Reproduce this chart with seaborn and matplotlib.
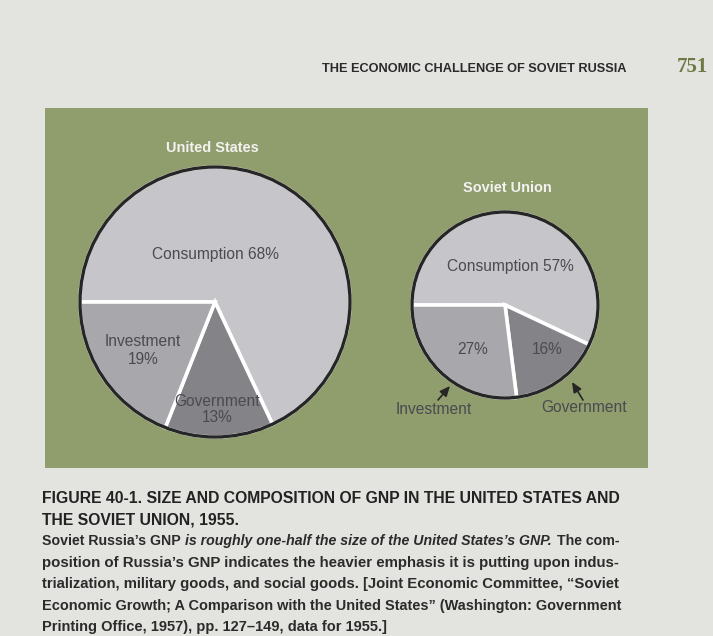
import matplotlib
matplotlib.use("Agg")
import matplotlib.pyplot as plt
import seaborn as sns
from matplotlib import font_manager
from matplotlib.patches import Circle, Rectangle

# ---------------- data ----------------
categories = ["Consumption", "Government", "Investment"]
us_shares = [68, 13, 19]
su_shares = [57, 16, 27]
countries = ["United States", "Soviet Union"]

header_text = "THE ECONOMIC CHALLENGE OF SOVIET RUSSIA"
page_number = "751"

# ---------------- style ----------------
sns.set_theme(style="white")
names = {f.name for f in font_manager.fontManager.ttflist}
NARROW = "Liberation Sans Narrow" if "Liberation Sans Narrow" in names else "Liberation Sans"
plt.rcParams["font.family"] = [NARROW, "DejaVu Sans"]

PAGE = "#e3e3e0"
GREEN = "#909d6d"
OUTLINE = "#262626"
SLICE_COLORS = {"Consumption": "#c5c5ca", "Government": "#838388", "Investment": "#a7a7ac"}
LABEL_C = "#4a4a50"
TEXT_C = "#2b2b2b"

W, H = 713, 636
fig = plt.figure(figsize=(W / 100, H / 100), dpi=100, facecolor=PAGE)
ax = fig.add_axes([0, 0, 1, 1])
renderer = fig.canvas.get_renderer()

# green panel
ax.add_patch(Rectangle((45, 108), 603, 360, facecolor=GREEN, edgecolor="none", zorder=0))

# pies
layout = {"United States": ((215, 302), 135), "Soviet Union": ((505, 305), 93)}
for country, shares in zip(countries, [us_shares, su_shares]):
    center, radius = layout[country]
    ax.pie(shares, colors=[SLICE_COLORS[c] for c in categories], startangle=180,
           counterclock=True, center=center, radius=radius,
           wedgeprops=dict(edgecolor="white", linewidth=2.6, joinstyle="miter"))
    ax.add_patch(Circle(center, radius, fill=False, edgecolor=OUTLINE, linewidth=2.4, zorder=5))

ax.set_xlim(0, W)
ax.set_ylim(H, 0)
ax.set_aspect("auto")
ax.set_axis_off()


def measure(s, **kw):
    t = ax.text(0, 0, s, fontsize=10, **kw)
    w = t.get_window_extent(renderer).width
    t.remove()
    return w


def fit(s, target, **kw):
    return 10.0 * target / measure(s, **kw)


# ---------------- pie labels ----------------
fs_lab = fit(f"{categories[0]} {us_shares[0]}%", 127)
lab_kw = dict(fontsize=fs_lab, color=LABEL_C, ha="center", va="center", zorder=6)
us = dict(zip(categories, us_shares))
su = dict(zip(categories, su_shares))
ax.text(215, 255, f"Consumption {us['Consumption']}%", **lab_kw)
ax.text(143, 342, "Investment", **lab_kw)
ax.text(143, 360, f"{us['Investment']}%", **lab_kw)
ax.text(217, 401, "Government", **lab_kw)
ax.text(217, 417, f"{us['Government']}%", **lab_kw)

ax.text(510, 267, f"Consumption {su['Consumption']}%", **lab_kw)
ax.text(473, 349, f"{su['Investment']}%", **lab_kw)
ax.text(547, 349, f"{su['Government']}%", **lab_kw)
ax.text(434, 409, "Investment", **lab_kw)
ax.text(584, 408, "Government", **lab_kw)
arrow_kw = dict(arrowstyle="-|>,head_length=0.5,head_width=0.22", color=OUTLINE, lw=1.2,
                shrinkA=0, shrinkB=0)
ax.annotate("", xy=(450, 386), xytext=(438, 400), arrowprops=arrow_kw, zorder=6)
ax.annotate("", xy=(572, 382), xytext=(583, 400), arrowprops=arrow_kw, zorder=6)

# titles
fs_title = fit(countries[0], 93, fontweight="bold")
ax.text(212, 148, countries[0], fontsize=fs_title, fontweight="bold", color="#f2f2f0",
        ha="center", va="center")
ax.text(507, 188, countries[1], fontsize=fs_title, fontweight="bold", color="#f2f2f0",
        ha="center", va="center")

# ---------------- header ----------------
hdr_kw = dict(fontweight="bold", family=["Liberation Sans", "DejaVu Sans"])
ax.text(322, 69, header_text, fontsize=fit(header_text, 306, **hdr_kw), color=TEXT_C,
        ha="left", va="center", **hdr_kw)
num_kw = dict(fontweight="bold", family=["Liberation Serif", "DejaVu Serif"])
ax.text(677, 67, page_number, fontsize=fit(page_number, 31, **num_kw), color="#6d7842",
        ha="left", va="center", **num_kw)

# ---------------- caption ----------------
B = dict(fontweight="bold")
BI = dict(fontweight="bold", fontstyle="italic")
X0, X1 = 42, 620
TARGET = X1 - X0

cap1 = "FIGURE 40-1. SIZE AND COMPOSITION OF GNP IN THE UNITED STATES AND"
cap2 = "THE SOVIET UNION, 1955."
cap3 = [("Soviet Russia’s GNP", B),
        ("is roughly one-half the size of the United States’s GNP.", BI),
        ("The com-", B)]
cap4 = "position of Russia’s GNP indicates the heavier emphasis it is putting upon indus-"
cap5 = "trialization, military goods, and social goods. [Joint Economic Committee, “Soviet"
cap6 = "Economic Growth; A Comparison with the United States” (Washington: Government"
cap7 = "Printing Office, 1957), pp. 127–149, data for 1955.]"

ys = [497, 518.5, 540, 561.5, 583, 604.5, 626]


def base(y, fs):
    return y + 0.36 * fs * 100 / 72


def put(s, y, fs, color=TEXT_C):
    ax.text(X0, base(y, fs), s, fontsize=fs, color=color, ha="left", va="baseline", **B)


fs1 = fit(cap1, TARGET, **B)
put(cap1, ys[0], fs1, "#222222")
put(cap2, ys[1], fs1, "#222222")

# mixed-style line
space = measure("x x", **B) - measure("xx", **B)
w3 = sum(measure(s, **st) for s, st in cap3) + space * (len(cap3) - 1)
fs3 = 10.0 * TARGET / w3
x = X0
for s, st in cap3:
    ax.text(x, base(ys[2], fs3), s, fontsize=fs3, color=TEXT_C, ha="left", va="baseline", **st)
    x += (measure(s, **st) + space) * fs3 / 10

fs_list = [fs3]
for s, y in zip([cap4, cap5, cap6], ys[3:6]):
    f = fit(s, TARGET, **B)
    fs_list.append(f)
    put(s, y, f)
put(cap7, ys[6], sum(fs_list) / len(fs_list))

fig.savefig("out.png", dpi=100, facecolor=PAGE)
